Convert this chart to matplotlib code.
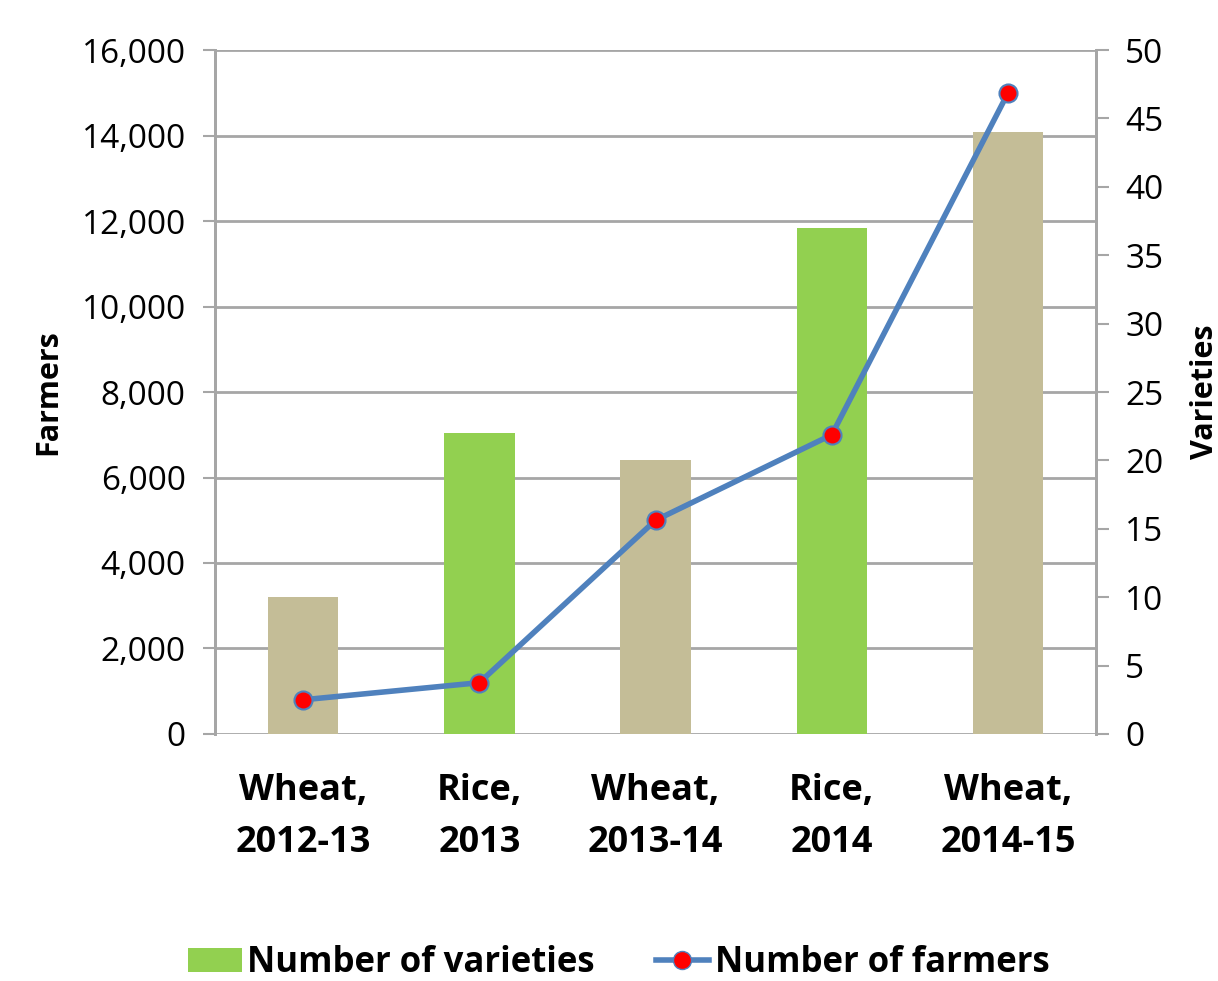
import matplotlib.pyplot as plt
from matplotlib.lines import Line2D
from matplotlib.patches import Patch
from matplotlib.ticker import FuncFormatter, MultipleLocator

plt.rcParams['font.family'] = ['Open Sans', 'DejaVu Sans']

categories = ['Wheat,\n2012-13', 'Rice,\n2013', 'Wheat,\n2013-14', 'Rice,\n2014', 'Wheat,\n2014-15']
varieties = [10, 22, 20, 37, 44]
farmers = [800, 1200, 5000, 7000, 15000]
crop = ['wheat', 'rice', 'wheat', 'rice', 'wheat']

crop_colors = {'wheat': '#C4BD97', 'rice': '#92D050'}
line_color = '#4F81BD'
grid_color = '#A6A6A6'

fig = plt.figure(figsize=(12.18, 9.81), dpi=100)
ax = fig.add_axes([0.1765, 0.2518, 0.7235, 0.6972])
ax2 = ax.twinx()

x = list(range(len(categories)))

# bars (varieties) on the right axis, line (farmers) on the left axis
ax2.bar(x, varieties, width=0.4, color=[crop_colors[c] for c in crop], zorder=2)
ax.set_zorder(ax2.get_zorder() + 1)
ax.patch.set_visible(False)
ax.plot(x, farmers, color=line_color, linewidth=4, marker='o', markersize=13,
        markerfacecolor='red', markeredgecolor=line_color, markeredgewidth=1.5,
        zorder=3, clip_on=False)

ax.set_xlim(-0.5, len(categories) - 0.5)
ax.set_ylim(0, 16000)
ax2.set_ylim(0, 50)
ax.yaxis.set_major_locator(MultipleLocator(2000))
ax2.yaxis.set_major_locator(MultipleLocator(5))
ax.yaxis.set_major_formatter(FuncFormatter(lambda v, p: f'{int(v):,}'))

# gridlines drawn on the bar axes so they sit behind the bars
for v in range(0, 16001, 2000):
    ax2.axhline(v / 16000 * 50, color=grid_color, linewidth=2, zorder=1)

ax.set_xticks([i - 0.5 for i in range(len(categories) + 1)])
ax.set_xticklabels([])
ax.set_xticks(x, minor=True)
ax.set_xticklabels(categories, minor=True, fontsize=26, fontweight='bold', linespacing=1.6)
ax.tick_params(axis='x', which='major', length=12, width=1.5, color=grid_color)
ax.tick_params(axis='x', which='minor', length=0, pad=28)
ax.tick_params(axis='y', length=9, width=1.5, color=grid_color, labelsize=24, pad=12)
ax2.tick_params(axis='y', length=9, width=1.5, color=grid_color, labelsize=24, pad=12)
ax2.set_xticks([])

for a in (ax, ax2):
    for side in ('top', 'bottom'):
        a.spines[side].set_visible(False)
    for side in ('left', 'right'):
        a.spines[side].set_color(grid_color)
        a.spines[side].set_linewidth(2)

ax.set_ylabel('Farmers', fontsize=22, fontweight='bold')
ax.yaxis.set_label_coords(-0.172, 0.5)
ax2.set_ylabel('Varieties', fontsize=22, fontweight='bold')
ax2.yaxis.set_label_coords(1.106, 0.5)

handles = [
    Patch(facecolor=crop_colors['rice'], edgecolor='none'),
    Line2D([0], [0], color=line_color, linewidth=4, marker='o', markersize=13,
           markerfacecolor='red', markeredgecolor=line_color),
]
fig.legend(handles, ['Number of varieties', 'Number of farmers'], loc='center',
           bbox_to_anchor=(0.508, 0.018), ncol=2, frameon=False,
           prop={'size': 25, 'weight': 'bold'}, handlelength=1.55,
           handletextpad=0.15, columnspacing=1.75)

fig.savefig('out.png', dpi=100)
